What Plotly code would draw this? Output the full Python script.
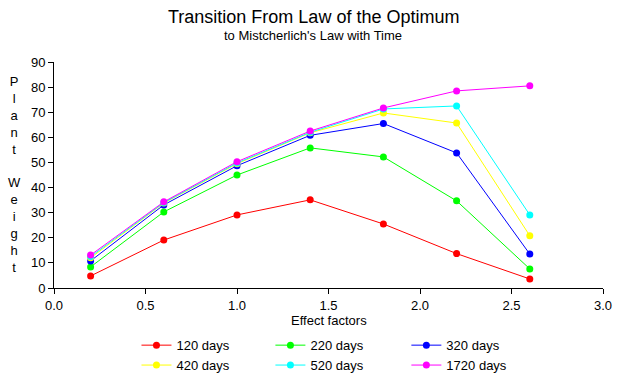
import plotly.graph_objects as go

effect_factors = [0.2, 0.6, 1.0, 1.4, 1.8, 2.2, 2.6]
series_names = ["120 days", "220 days", "320 days", "420 days", "520 days", "1720 days"]
days_120 = [4.8, 19.1, 29.1, 35.1, 25.5, 13.7, 3.6]
days_220 = [8.4, 30.3, 45.0, 55.8, 52.2, 34.7, 7.6]
days_320 = [10.8, 33.1, 48.7, 60.8, 65.5, 53.8, 13.5]
days_420 = [12.0, 33.8, 49.5, 61.8, 69.7, 65.7, 20.8]
days_520 = [12.5, 34.0, 49.8, 62.0, 71.3, 72.5, 29.1]
days_1720 = [13.1, 34.3, 50.3, 62.5, 71.7, 78.5, 80.5]
series_values = [days_120, days_220, days_320, days_420, days_520, days_1720]
colors = ["#FF0000", "#00FF00", "#0000FF", "#FFFF00", "#00FFFF", "#FF00FF"]
legend_ids = ["legend", "legend2", "legend3", "legend", "legend2", "legend3"]

FONT = "Liberation Sans, Arial, sans-serif"
L, R, T, B = 53.5, 21.3, 62.3, 92.7
PW = 624 - L - R
PH = 381 - T - B

fig = go.Figure()
for name, vals, c, lg in zip(series_names, series_values, colors, legend_ids):
    fig.add_trace(go.Scatter(
        x=effect_factors, y=vals, name=name, mode="lines+markers",
        line=dict(color=c, width=1),
        marker=dict(color=c, size=7, symbol="circle"),
        legend=lg,
    ))

def px_x(p):
    return (p - L) / PW

def px_y(p):
    return (381 - B - p) / PH

leg_common = dict(
    orientation="v", xanchor="left", yanchor="top", y=px_y(330.5),
    font=dict(family=FONT, size=13, color="black"),
    bgcolor="rgba(0,0,0,0)", itemwidth=30, tracegroupgap=0,
)

fig.update_layout(
    width=624, height=381,
    paper_bgcolor="white", plot_bgcolor="white",
    margin=dict(l=L, r=R, t=T, b=B, autoexpand=False),
    font=dict(family=FONT, size=12, color="black"),
    showlegend=True,
    legend=dict(x=px_x(136), **leg_common),
    legend2=dict(x=px_x(270), **leg_common),
    legend3=dict(x=px_x(406), **leg_common),
    annotations=[
        dict(text="Transition From Law of the Optimum", xref="paper", yref="paper",
             x=px_x(313), y=px_y(17), showarrow=False, yanchor="middle",
             font=dict(family=FONT, size=18, color="black"), xanchor="center"),
        dict(text="to Mistcherlich's Law with Time", xref="paper", yref="paper",
             x=px_x(312.5), y=px_y(36), showarrow=False, yanchor="middle",
             font=dict(family=FONT, size=13, color="black"), xanchor="center"),
        dict(text="P<br>l<br>a<br>n<br>t<br> <br>W<br>e<br>i<br>g<br>h<br>t",
             xref="paper", yref="paper", x=px_x(13.5), y=px_y(175),
             showarrow=False, font=dict(family=FONT, size=13, color="black"),
             xanchor="center", yanchor="middle"),
        dict(text="Effect factors", xref="paper", yref="paper", x=0.5, y=px_y(321),
             showarrow=False, xanchor="center", yanchor="middle",
             font=dict(family=FONT, size=13, color="black")),
    ],
)

fig.update_xaxes(
    range=[0, 3], tickvals=[0, 0.5, 1.0, 1.5, 2.0, 2.5, 3.0],
    ticktext=["0.0", "0.5", "1.0", "1.5", "2.0", "2.5", "3.0"],
    showline=True, linecolor="black", linewidth=1, ticks="outside",
    ticklen=5, tickcolor="black", showgrid=False, zeroline=False,
    tickfont=dict(family=FONT, size=13),
)
fig.update_yaxes(
    range=[0, 90], tickvals=[0, 10, 20, 30, 40, 50, 60, 70, 80, 90],
    showline=True, linecolor="black", linewidth=1, ticks="outside",
    ticklen=5, tickcolor="black", showgrid=False, zeroline=False,
    tickfont=dict(family=FONT, size=13),
)

fig.write_html(
    "out.html",
    config={"displayModeBar": False},
    post_script="document.body.style.margin='0';document.body.style.overflow='hidden';",
)
